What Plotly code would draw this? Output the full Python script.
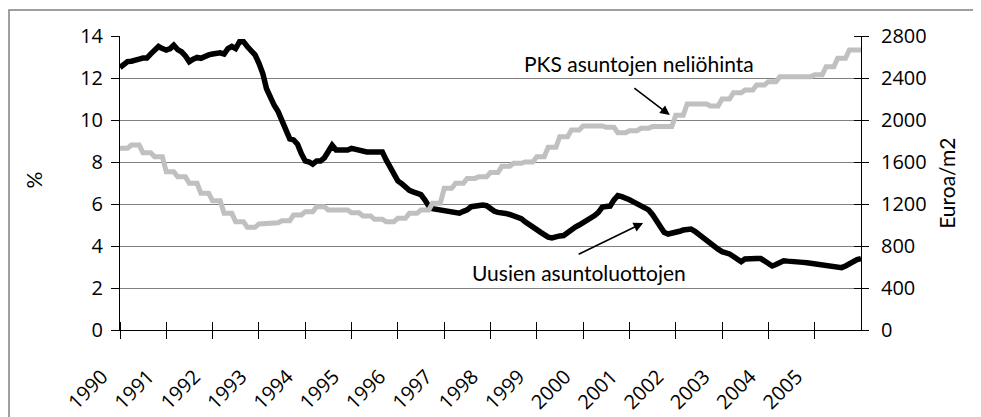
import numpy as np
import pandas as pd
import plotly.graph_objects as go

# Months Jan 1990 .. Jan 2006
months = pd.date_range("1990-01-01", periods=193, freq="MS")

# Average interest rate on new housing loans, % (monthly)
loan_rate = [
    12.5, 12.65, 12.78, 12.8, 12.88, 12.9, 12.95, 12.95, 13.15, 13.3, 13.5, 13.4,
    13.33, 13.4, 13.56, 13.35, 13.25, 13.05, 12.78, 12.9, 12.98, 12.94, 13.05, 13.1,
    13.14, 13.18, 13.2, 13.14, 13.4, 13.5, 13.4, 13.73, 13.73, 13.5, 13.3, 13.1,
    12.7, 12.2, 11.5, 11.05, 10.7, 10.4, 10.0, 9.45, 9.1, 9.05, 8.85, 8.4,
    8.05, 8.0, 7.9, 8.05, 8.05, 8.2, 8.45, 8.8, 8.57, 8.57, 8.57, 8.57,
    8.65, 8.6, 8.55, 8.48, 8.48, 8.48, 8.48, 8.48, 8.48, 8.1, 7.8, 7.4,
    7.1, 6.97, 6.8, 6.65, 6.58, 6.54, 6.45, 6.2, 5.9, 5.78, 5.75, 5.72,
    5.68, 5.67, 5.67, 5.6, 5.56, 5.65, 5.72, 5.87, 5.9, 5.95, 5.95, 5.92,
    5.75, 5.65, 5.6, 5.59, 5.55, 5.5, 5.45, 5.35, 5.3, 5.15, 5.05, 4.9,
    4.78, 4.65, 4.52, 4.42, 4.38, 4.45, 4.48, 4.5, 4.65, 4.78, 4.9, 5.0,
    5.1, 5.2, 5.35, 5.45, 5.6, 5.85, 5.88, 5.9, 6.2, 6.4, 6.35, 6.3,
    6.2, 6.1, 6.0, 5.9, 5.8, 5.72, 5.5, 5.2, 4.9, 4.65, 4.57, 4.6,
    4.68, 4.7, 4.76, 4.78, 4.81, 4.7, 4.55, 4.42, 4.3, 4.15, 4.0, 3.85,
    3.73, 3.68, 3.62, 3.5, 3.4, 3.25, 3.38, 3.41, 3.41, 3.41, 3.41, 3.3,
    3.15, 3.05, 3.12, 3.2, 3.3, 3.28, 3.25, 3.22, 3.22, 3.22, 3.2, 3.17,
    3.15, 3.12, 3.1, 3.05, 3.0, 2.97, 2.97, 2.97, 3.05, 3.15, 3.3, 3.35,
    3.4,
]

# Helsinki area (PKS) housing price, EUR/m2 (quarterly)
price_quarterly = [
    1730, 1762, 1689, 1651, 1508, 1460, 1397, 1302,
    1232, 1111, 1032, 978, 1010, 1021, 1041, 1095,
    1127, 1175, 1143, 1143, 1117, 1086, 1054, 1032,
    1064, 1111, 1143, 1206, 1349, 1397, 1444, 1460,
    1500, 1560, 1587, 1600, 1650, 1740, 1841, 1905,
    1943, 1943, 1930, 1879, 1898, 1921, 1937, 1937,
    2045, 2152, 2152, 2133, 2200, 2260, 2285, 2333,
    2365, 2413, 2413, 2413, 2430, 2508, 2587, 2667,
    2667,
]
price = np.repeat(price_quarterly, 3)[:len(months)]

years = list(range(1990, 2007))
year_labels = [str(y) for y in range(1990, 2006)] + [""]

FONT = "Lato, 'Open Sans', sans-serif"
TICK_FONT = dict(family="'Open Sans', sans-serif", size=20, color="black")
FS = 21
tick_dates = [pd.Timestamp(f"{y}-01-01") for y in years]

fig = go.Figure()
fig.add_trace(go.Scatter(x=months, y=price, yaxis="y2", mode="lines",
                         line=dict(color="#c0c0c0", width=5), name="PKS"))
fig.add_trace(go.Scatter(x=months, y=loan_rate, mode="lines",
                         line=dict(color="#000000", width=5.5), name="Uusien"))

# the page body adds an 8px offset, so margins are shifted by that
fig.update_layout(
    width=981, height=417,
    margin=dict(l=112, r=128, t=28, b=95),
    paper_bgcolor="white", plot_bgcolor="white",
    showlegend=False,
    font=dict(family=FONT, size=FS, color="black"),
    xaxis=dict(range=[tick_dates[0], tick_dates[-1]], tickmode="array",
               tickvals=tick_dates, ticktext=year_labels, tickangle=-45,
               tickfont=TICK_FONT, automargin=False,
               ticklabelstandoff=18, ticklabelshift=-18,
               showgrid=False, showline=True, linecolor="black", linewidth=1,
               ticks="outside", ticklen=8, tickcolor="black",
               minor=dict(ticks="inside", tickmode="array", tickvals=tick_dates,
                          ticklen=8, tickcolor="black", showgrid=False),
               zeroline=False),
    yaxis=dict(range=[0, 14], dtick=2, showgrid=True, gridcolor="#808080",
               gridwidth=1, showline=True, linecolor="black", linewidth=1,
               tickfont=TICK_FONT, automargin=False, ticklabelstandoff=4,
               ticks="outside", ticklen=8, tickcolor="black", zeroline=False),
    yaxis2=dict(range=[0, 2800], dtick=400, overlaying="y", side="right",
                tickfont=TICK_FONT, automargin=False, ticklabelstandoff=8,
                showgrid=False, showline=True, linecolor="black", linewidth=1,
                ticks="outside", ticklen=7, tickcolor="black", zeroline=False,
                minor=dict(ticks="inside", dtick=400, ticklen=7, tickcolor="black",
                           showgrid=False)),
)

# outer frame (right and bottom edges fall outside the picture)
fig.add_shape(type="rect", xref="paper", yref="paper",
              x0=-0.1498, x1=1.2, y0=-0.35, y1=1.0884,
              line=dict(color="#808080", width=1.5), fillcolor="rgba(0,0,0,0)",
              layer="below")

fig.add_annotation(xref="paper", yref="paper", x=-0.118, y=0.51, text="%",
                   textangle=-90, showarrow=False, font=dict(size=FS),
                   xanchor="center", yanchor="middle")
fig.add_annotation(xref="paper", yref="paper", x=1.1145, y=0.50, text="Euroa/m2",
                   textangle=-90, showarrow=False, font=dict(size=FS),
                   xanchor="center", yanchor="middle")

fig.add_annotation(xref="paper", yref="paper", x=0.700, y=0.908,
                   text="PKS asuntojen neliöhinta", showarrow=False,
                   font=dict(size=FS), xanchor="center", yanchor="middle")
fig.add_annotation(xref="paper", yref="paper", x=0.742, y=0.731, ax=-37, ay=-28,
                   text="", showarrow=True, arrowhead=2, arrowsize=1.2,
                   arrowwidth=1.6, arrowcolor="black")
fig.add_annotation(xref="paper", yref="paper", x=0.619, y=0.197,
                   text="Uusien asuntoluottojen", showarrow=False,
                   font=dict(size=FS), xanchor="center", yanchor="middle")
fig.add_annotation(xref="paper", yref="paper", x=0.706, y=0.364, ax=-66, ay=32,
                   text="", showarrow=True, arrowhead=2, arrowsize=1.2,
                   arrowwidth=1.6, arrowcolor="black")

fig.write_html("out.html")
